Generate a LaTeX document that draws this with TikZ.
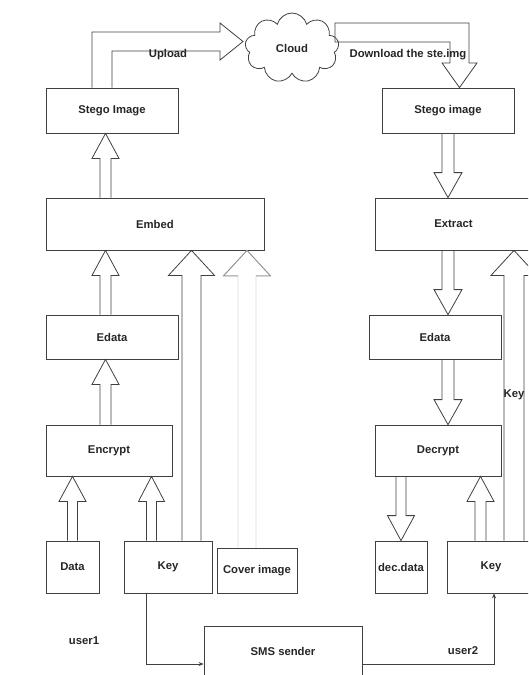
\documentclass[tikz,border=0pt]{standalone}
\usepackage{fontspec}
\newfontfamily\diagfont{Liberation Sans}
\usetikzlibrary{shapes.symbols,arrows.meta,calc}

% hollow block arrow: [style]{half shaft}{half head}{start}{tip}
\newcommand{\blockarrow}[5][]{%
  \draw[blk,#1] let \p1=(#4), \p2=(#5), \n1={ifthenelse(\y2>\y1,1,-1)} in
    ({\x2-#2},\y1) -- ({\x2-#2},{\y2-\n1*25pt}) -- ({\x2-#3},{\y2-\n1*25pt})
    -- (\x2,\y2) -- ({\x2+#3},{\y2-\n1*25pt}) -- ({\x2+#2},{\y2-\n1*25pt}) -- ({\x2+#2},\y1);}

\tikzset{
  box/.style={draw=black!75, line width=0.8pt, text=black!85, inner sep=2pt,
    font=\diagfont\bfseries\fontsize{11.3}{13}\selectfont},
  blk/.style={draw=black!75, line width=0.8pt, line join=miter},
  link/.style={draw=black!75, line width=0.7pt, -{Stealth[length=5pt,width=4pt]}},
  lbl/.style={text=black!85, inner sep=1pt, font=\diagfont\bfseries\fontsize{11.3}{13}\selectfont}
}

\begin{document}
\begin{tikzpicture}[x=1pt,y=-1pt]
\useasboundingbox (0,0) rectangle (528,675);
\clip (0,0) rectangle (528,675);

% columns of the block arrows
\coordinate (colL) at (105.5,0);
\coordinate (colKa) at (151.5,0);
\coordinate (colKb) at (191.5,0);
\coordinate (colC) at (247,0);
\coordinate (colKc) at (480.5,0);
\coordinate (colKd) at (514,0);

% user1 side
\node[box, minimum width=132pt, minimum height=45pt] (stegoL) at (112,110.5) {Stego Image};
\node[box, minimum width=218pt, minimum height=52pt] (embed) at (155,224) {Embed};
\node[box, minimum width=132pt, minimum height=44pt] (edataL) at (112,337) {Edata};
\node[box, minimum width=126pt, minimum height=51pt] (encrypt) at (109,450.5) {Encrypt};
\node[box, minimum width=53pt, minimum height=52pt] (data) at (72.5,567) {Data};
\node[box, minimum width=88pt, minimum height=52pt] (keyL) at (168,567) {Key};
\node[box, minimum width=80pt, minimum height=45pt] (cover) at (257,570.5) {Cover image};
\node[box, minimum width=158pt, minimum height=50pt] (sms) at (283,651) {SMS sender};

% user2 side
\node[box, minimum width=132pt, minimum height=45pt] (stegoR) at (448,110.5) {Stego image};
\node[box, minimum width=157pt, minimum height=52pt] (extract) at (453.5,224) {Extract};
\node[box, minimum width=132pt, minimum height=44pt] (edataR) at (435,337) {Edata};
\node[box, minimum width=126pt, minimum height=51pt] (decrypt) at (438,450.5) {Decrypt};
\node[box, minimum width=52pt, minimum height=52pt, inner sep=1pt] (decdata) at (401,567) {dec.data};
\node[box, minimum width=88pt, minimum height=52pt] (keyR) at (491,567) {Key};

\node[cloud, cloud puffs=9, draw=black!75, line width=0.8pt, text=black!85,
  minimum width=94pt, minimum height=70pt,
  font=\diagfont\bfseries\fontsize{11.3}{13}\selectfont] (cloud) at (292,48) {Cloud};

% upload and download
\draw[blk] ([xshift=-20pt]stegoL.north) |- (220,32) -- (220,23) -- (243,41.5)
  -- (220,60) -- (220,51) -| (stegoL.north);
\draw[blk] (335,42) -- (335,23) -- (469,23) -- (469,63) -- (477,63)
  -- ([xshift=11.5pt]stegoR.north) -- (442,63) -- (450,63) -- (450,42) -- cycle;

% left chain
\blockarrow{5.5pt}{13.5pt}{embed.north}{colL |- stegoL.south}
\blockarrow{5.5pt}{13.5pt}{edataL.north}{colL |- embed.south}
\blockarrow{5.5pt}{13.5pt}{encrypt.north}{colL |- edataL.south}
\blockarrow{5pt}{13.5pt}{data.north}{data.north |- encrypt.south}
\blockarrow{5pt}{13pt}{keyL.north}{colKa |- encrypt.south}
\blockarrow{9.5pt}{23pt}{keyL.north}{colKb |- embed.south}
\blockarrow[draw=black!15]{9pt}{23.5pt}{cover.north}{colC |- embed.south}
\draw[blk, draw=black!45] (238,276) -- (223.5,276) -- (colC |- embed.south) -- (270.5,276) -- (256,276);

% right chain
\blockarrow{6pt}{14pt}{stegoR.south}{stegoR.south |- extract.north}
\blockarrow{6pt}{14pt}{extract.south}{stegoR.south |- edataR.north}
\blockarrow{6pt}{14pt}{edataR.south}{stegoR.south |- decrypt.north}
\blockarrow{5pt}{13.5pt}{decrypt.south}{decdata.north}
\blockarrow{5.5pt}{13.5pt}{keyR.north}{colKc |- decrypt.south}
\blockarrow{10pt}{23pt}{keyR.north}{colKd |- extract.south}

% key sent by sms
\draw[link] ([xshift=-22pt]keyL.south) |- ([yshift=-13pt]sms.west);
\draw[link] ([yshift=-13pt]sms.east) -| ([xshift=3pt]keyR.south);

\node[lbl] (upload) at (168,55) {Upload};
\node[lbl] (download) at (408,55) {Download the ste.img};
\node[lbl] (keylbl) at (514,395) {Key};
\node[lbl] (user1) at (84,641) {user1};
\node[lbl] (user2) at (463,651) {user2};

\end{tikzpicture}
\end{document}
